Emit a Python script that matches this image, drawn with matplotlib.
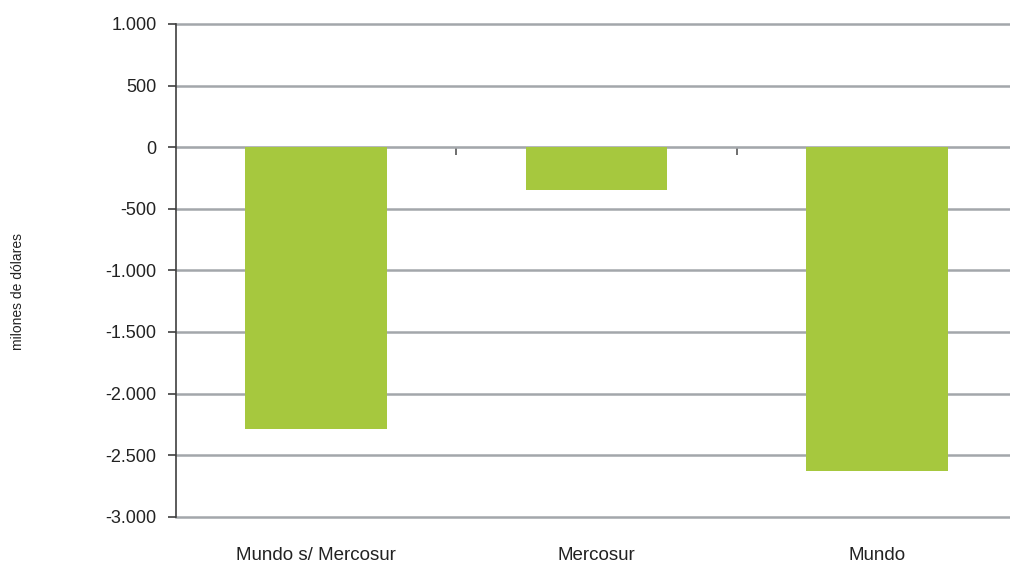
import matplotlib
matplotlib.use("Agg")
import matplotlib.pyplot as plt
from matplotlib.ticker import FuncFormatter

# data (millones de dolares)
categories = ["Mundo s/ Mercosur", "Mercosur", "Mundo"]
values = [-2290, -345, -2630]
y_ticks = [1000, 500, 0, -500, -1000, -1500, -2000, -2500, -3000]

bar_color = "#a6c83e"
grid_color = "#a3a7ab"
plt.rcParams["font.family"] = ["Liberation Sans", "DejaVu Sans"]

fig = plt.figure(figsize=(10.1, 5.65), dpi=100)
ax = fig.add_axes([176 / 1010, 1 - 516.7 / 565, (1017 - 176) / 1010, (516.7 - 24) / 565])

x = list(range(len(categories)))
ax.bar(x, values, width=0.505, color=bar_color, zorder=3)

ax.set_xlim(-0.5, len(categories) - 0.5)
ax.set_ylim(-3000, 1000)
ax.set_yticks(y_ticks)
ax.yaxis.set_major_formatter(FuncFormatter(lambda v, p: f"{int(v):,}".replace(",", ".")))
ax.grid(axis="y", color=grid_color, linewidth=1.8, zorder=1)
for gl in ax.get_ygridlines():
    gl.set_clip_on(False)
ax.set_axisbelow(True)

for s in ["top", "right", "bottom"]:
    ax.spines[s].set_visible(False)
ax.spines["left"].set_color("#404040")
ax.spines["left"].set_linewidth(1.2)
ax.spines["left"].set_zorder(4)

ax.tick_params(axis="y", direction="out", length=6, width=1.2, color="#404040",
               labelsize=13, labelcolor="#222222", pad=8)
ax.set_xticks(x)
ax.set_xticklabels(categories)
ax.tick_params(axis="x", length=0, labelsize=13.5, labelcolor="#222222", pad=22)

# category separators on the zero line
sec = ax.secondary_xaxis(0.75)
sec.set_xticks([i + 0.5 for i in x[:-1]])
sec.set_xticklabels([])
sec.spines["bottom"].set_visible(False)
sec.tick_params(axis="x", direction="in", length=6, width=1.2, color="#555555")

fig.text(18 / 1010, 1 - 291 / 565, "milones de dólares", rotation=90,
         ha="center", va="center", fontsize=10, color="#222222")

fig.savefig("out.png", dpi=100)
